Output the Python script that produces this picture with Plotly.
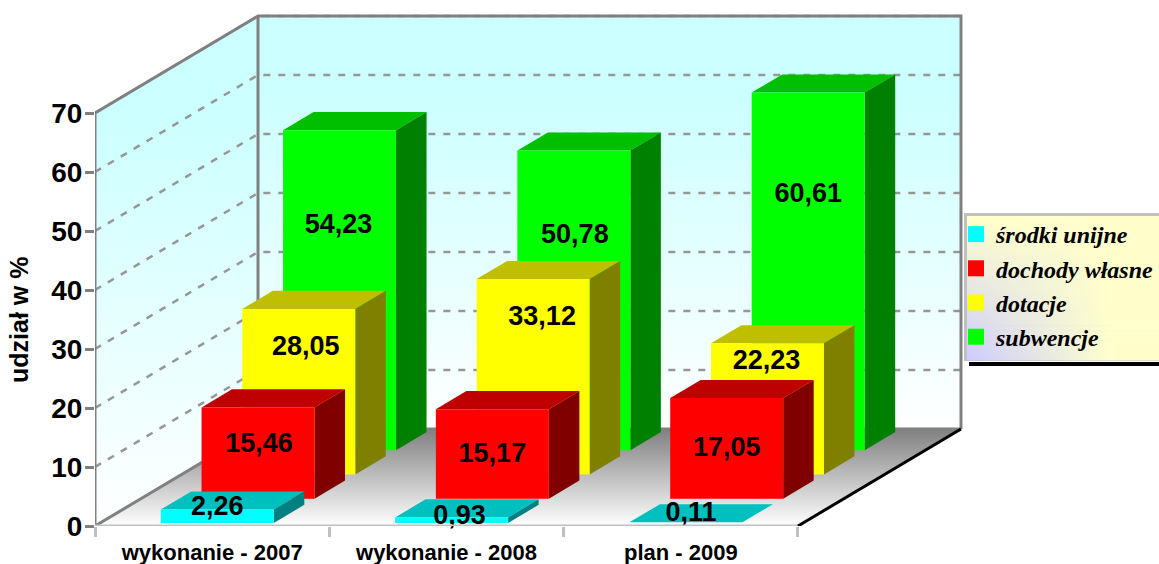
import plotly.graph_objects as go

categories = ["wykonanie - 2007", "wykonanie - 2008", "plan - 2009"]
srodki_unijne = [2.26, 0.93, 0.11]
dochody_wlasne = [15.46, 15.17, 17.05]
dotacje = [28.05, 33.12, 22.23]
subwencje = [54.23, 50.78, 60.61]
y_ticks = [0, 10, 20, 30, 40, 50, 60, 70]
series_names = ["środki unijne", "dochody własne", "dotacje", "subwencje"]
y_title = "udział w %"

# ---------- geometry / style ----------
W, H = 1159, 564
X0, Y0 = 95, 526          # pixel of the front-left origin
PX_CAT = 234.33           # px per category
PX_VAL = 5.9              # px per value unit
DEPTH_PX = (163, 97)      # floor depth in px
BAR_W = 113 / PX_CAT
BAR_DEPTH = 30.5 / 163    # fraction of floor depth, per bar
n_series = 4
values = [srodki_unijne, dochody_wlasne, dotacje, subwencje]
face_cols = [("#00FFFF", "#00BFBF", "#008080"), ("#FF0000", "#BF0000", "#800000"),
             ("#FFFF00", "#BFBF00", "#808000"), ("#00FF00", "#00BF00", "#008000")]
# label offsets from the centre of the bar's front face, px (dx, up)
nudge = [[(0, 8), (8, 3), (5, 8)],
         [(1, 8), (0, -1), (0, -1)],
         [(7, 43), (9, 59), (-1, 47)],
         [(-1, 64), (1, 64), (0, 76)]]

DX = DEPTH_PX[0] / PX_CAT
DY = DEPTH_PX[1] / PX_VAL
def px(x): return (x - X0) / PX_CAT
def py(y): return (Y0 - y) / PX_VAL

fig = go.Figure()

def poly(xs, ys, **kw):
    fig.add_trace(go.Scatter(x=list(xs) + [xs[0]], y=list(ys) + [ys[0]], mode="lines", fill="toself",
                             line=dict(width=0), hoverinfo="skip", showlegend=False, **kw))

def seg(xs, ys, color, width, dash=None):
    fig.add_trace(go.Scatter(x=xs, y=ys, mode="lines", line=dict(color=color, width=width, dash=dash),
                             hoverinfo="skip", showlegend=False, cliponaxis=False))

ymax = y_ticks[-1]
# walls and floor
wall_cs = [[0, "#FFFFFF"], [0.8, "#CCFFFF"], [1, "#CCFFFF"]]
poly([0, DX, DX, 0], [0, DY, ymax + DY, ymax], fillgradient=dict(type="vertical", colorscale=wall_cs))
poly([DX, 3 + DX, 3 + DX, DX], [DY, DY, ymax + DY, ymax + DY],
     fillgradient=dict(type="vertical", colorscale=wall_cs))
poly([0, 3, 3 + DX, DX], [0, 0, DY, DY],
     fillgradient=dict(type="vertical", colorscale=[[0, "#FFFFFF"], [1, "#808080"]]))

# gridlines
gx, gy = [], []
for t in y_ticks[1:]:
    gx += [0, DX, 3 + DX, None]
    gy += [t, t + DY, t + DY, None]
seg(gx, gy, "#969696", 2.5, "7px,8px")

# frame
seg([0, 0, DX, 3 + DX, 3 + DX], [0, ymax, ymax + DY, ymax + DY, DY], "#808080", 3)
seg([DX, DX], [ymax + DY, DY], "#808080", 3)
seg([0, DX, 3 + DX], [0, DY, DY], "#808080", 3)

# bars, back to front
for s in range(n_series - 1, -1, -1):
    for c in range(len(categories)):
        v = values[s][c]
        slot = 1 / n_series
        margin = (slot - BAR_DEPTH) / 2
        d0 = s * slot + margin
        d1 = d0 + BAR_DEPTH
        xl = c + (1 - BAR_W) / 2 + d0 * DX
        xr = xl + BAR_W
        b0 = d0 * DY
        ox = (d1 - d0) * DX
        oy = (d1 - d0) * DY
        front, top, side = face_cols[s]
        poly([xl, xr, xr + ox, xl + ox], [b0 + v, b0 + v, b0 + v + oy, b0 + v + oy], fillcolor=top)
        poly([xr, xr + ox, xr + ox, xr], [b0, b0 + oy, b0 + oy + v, b0 + v], fillcolor=side)
        poly([xl, xr, xr, xl], [b0, b0, b0 + v, b0 + v], fillcolor=front)

# value labels
lx, ly, lt = [], [], []
for s in range(n_series):
    for c in range(len(categories)):
        v = values[s][c]
        slot = 1 / n_series
        d0 = s * slot + (slot - BAR_DEPTH) / 2
        xl = c + (1 - BAR_W) / 2 + d0 * DX
        lx.append(xl + BAR_W / 2 + nudge[s][c][0] / PX_CAT)
        ly.append(d0 * DY + v / 2 + nudge[s][c][1] / PX_VAL)
        lt.append(f"{v:.2f}".replace(".", ","))
fig.add_trace(go.Scatter(x=lx, y=ly, text=lt, mode="text", hoverinfo="skip", showlegend=False, cliponaxis=False,
                         textfont=dict(family="Liberation Sans", size=27, color="#000000", weight="bold")))

# front edges drawn over the labels
seg([0, 3], [0, 0], "#C0C0C0", 3)
seg([3, 3 + DX], [0, DY], "#000000", 3)

# legend panel: black shadow, grey border, diagonal lavender-to-cream fill built from strips
LX0, LX1, LY0, LY1 = 965, 1159, 214, 360
poly([px(969), px(1159), px(1159), px(969)], [py(362), py(362), py(366), py(366)], fillcolor="#000000", cliponaxis=False)
poly([px(LX0 - 1), px(LX1), px(LX1), px(LX0 - 1)], [py(LY0 - 1), py(LY0 - 1), py(LY1 + 1), py(LY1 + 1)],
     fillcolor="#C0C0C0", cliponaxis=False)
n_strip = 29
step = (LY1 - LY0 - 2) / n_strip
for i in range(n_strip):
    t = i / (n_strip - 1)
    r = round(255 - 51 * t)
    g = round(255 - 51 * t)
    b = round(204 + 51 * t)
    left = f"rgb({r},{g},{b})"
    y0 = LY0 + 2 + i * step
    y1 = y0 + step + 0.6
    poly([px(LX0 + 2), px(LX1), px(LX1), px(LX0 + 2)], [py(y0), py(y0), py(y1), py(y1)], cliponaxis=False,
         fillgradient=dict(type="horizontal",
                           colorscale=[[0, left], [0.75, "#FFFFCC"], [1, "#FFFFCC"]]))

# legend entries
for s in range(n_series):
    fig.add_trace(go.Scatter(x=[None], y=[None], mode="markers", name=series_names[s], legendgroup=series_names[s],
                             marker=dict(symbol="square", size=16, color=face_cols[s][0])))

fig.update_layout(
    width=W, height=H, margin=dict(l=0, r=0, t=0, b=0),
    paper_bgcolor="#FFFFFF", plot_bgcolor="rgba(0,0,0,0)",
    showlegend=True,
    legend=dict(x=956 / W, y=1 - 212 / H, xanchor="left", yanchor="top", bgcolor="rgba(0,0,0,0)",
                borderwidth=0, itemsizing="trace", traceorder="normal", tracegroupgap=8,
                font=dict(family="Liberation Serif", size=24, color="#000000", style="italic", weight="bold")),
    xaxis=dict(domain=[X0 / W, 1], range=[0, (W - X0) / PX_CAT], showgrid=False, zeroline=False, showline=False,
               automargin=False,
               tickmode="array", tickvals=[0.5, 1.5, 2.5], ticktext=categories,
               ticks="outside", ticklen=7, tickcolor="rgba(0,0,0,0)",
               tickfont=dict(family="Liberation Sans", size=22, color="#000000", weight="bold"),
               minor=dict(tickmode="array", tickvals=[0, 1, 2, 3], ticks="outside", ticklen=10, tickwidth=3,
                          tickcolor="#C0C0C0", showgrid=False)),
    yaxis=dict(domain=[(H - Y0) / H, 1], range=[0, Y0 / PX_VAL], showgrid=False, zeroline=False, showline=False,
               automargin=False,
               tickmode="array", tickvals=y_ticks, ticks="outside", ticklen=9, tickwidth=3, tickcolor="#808080",
               ticklabelstandoff=-3,
               tickfont=dict(family="Liberation Sans", size=28, color="#000000", weight="bold")),
    annotations=[dict(text=y_title, xref="paper", yref="paper", x=19 / W, y=1 - 320 / H, showarrow=False,
                      textangle=-90, xanchor="center", yanchor="middle",
                      font=dict(family="Liberation Sans", size=25, color="#000000", weight="bold"))],
)

fig.write_html("out.html", config={"displayModeBar": False}, post_script="document.body.style.margin='0';")
